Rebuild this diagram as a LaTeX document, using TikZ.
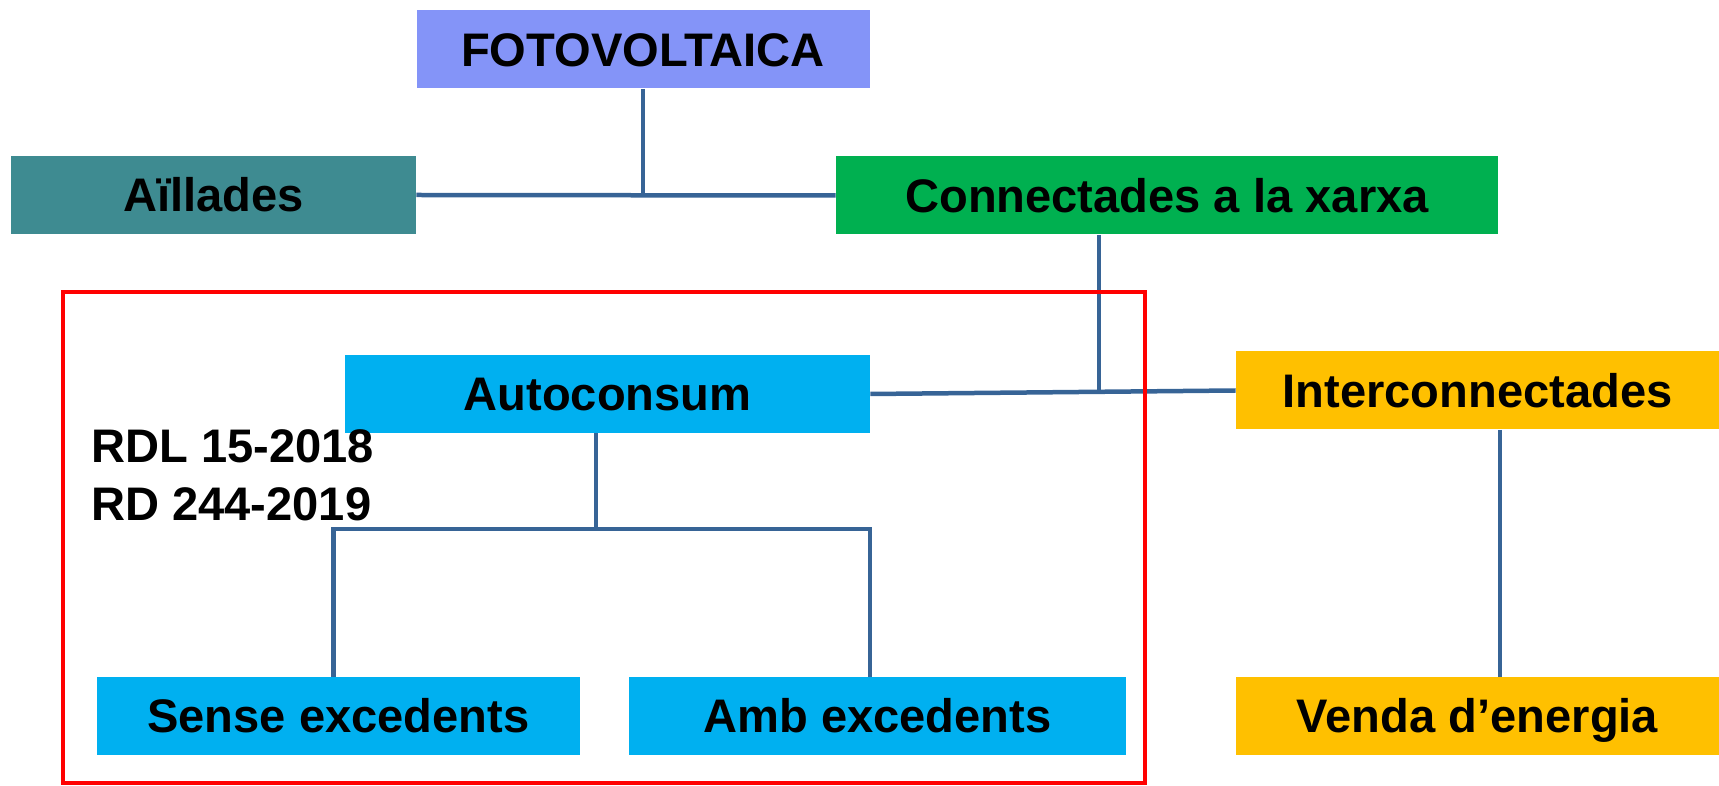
\documentclass[tikz,border=0pt]{standalone}
\usepackage{fontspec}
\setmainfont{Liberation Sans}
\usepackage{tikz}
\usetikzlibrary{positioning, calc}
\definecolor{fotoblue}{RGB}{132, 148, 248}
\definecolor{illteal}{RGB}{62, 139, 145}
\definecolor{xarxagreen}{RGB}{0, 176, 80}
\definecolor{autocyan}{RGB}{0, 176, 240}
\definecolor{intergold}{RGB}{255, 192, 0}
\definecolor{linkblue}{RGB}{55, 100, 150}

\begin{document}
\begin{tikzpicture}[
  box/.style={inner sep=0pt, minimum height=1.56cm, text height=19.2pt, text depth=0pt, font=\fontsize{26.8}{32}\selectfont\bfseries},
  link/.style={linkblue, line width=0.09cm}
]
  \useasboundingbox (0, 0) rectangle (34.38, 15.7);

  % Top level
  \node[box, fill=fotoblue, minimum width=9.06cm] (foto) at (12.86, 14.71) {FOTOVOLTAICA};
  \node[box, fill=illteal, minimum width=8.1cm] (ail) at (4.27, 11.8) {Aïllades};
  \node[box, fill=xarxagreen, minimum width=13.24cm] (xarxa) at (23.34, 11.79) {Connectades a la xarxa};
  \draw[link] (foto.south) -- (foto.south |- ail.east);
  \draw[link] (ail.east) -- (xarxa.west);

  % Connected to the grid
  \node[box, fill=autocyan, minimum width=10.5cm] (auto) at (12.15, 7.82) {Autoconsum};
  \node[box, fill=intergold, minimum width=9.66cm] (inter) at (29.55, 7.89) {Interconnectades};
  \coordinate (jx) at (21.98, 7.86);
  \draw[link] (xarxa.south -| jx) -- (jx);
  \draw[link] (auto.east) -- (inter.west);

  % Self-consumption
  \node[box, fill=autocyan, minimum width=9.66cm] (sense) at (6.77, 1.38) {Sense excedents};
  \node[box, fill=autocyan, minimum width=9.94cm] (amb) at (17.55, 1.38) {Amb excedents};
  \coordinate (ja) at (11.92, 5.12);
  \draw[link] (auto.south -| ja) -- (ja);
  \draw[link] ([xshift=-1mm]sense.north) |- (ja) -| ([xshift=-1.5mm]amb.north);
  \node[anchor=base west, font=\fontsize{26.8}{32}\selectfont\bfseries] (rdl) at (1.7, 6.44) {RDL 15-2018};
  \node[anchor=base west, font=\fontsize{26.8}{32}\selectfont\bfseries] (rd) at (1.7, 5.28) {RD 244-2019};

  % Selling
  \node[box, fill=intergold, minimum width=9.66cm] (venda) at (29.55, 1.38) {Venda d’energia};
  \draw[link] ([xshift=4.5mm]inter.south) -- ([xshift=4.5mm]venda.north);

  % Frame
  \draw[red, line width=0.08cm] (1.26, 0.04) rectangle (22.9, 9.86);
\end{tikzpicture}
\end{document}
